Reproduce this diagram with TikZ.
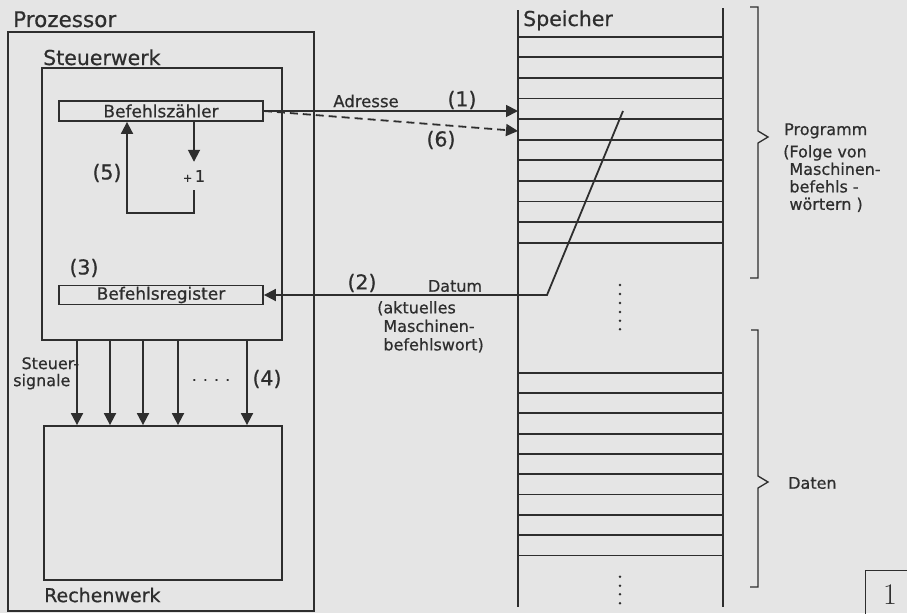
\documentclass[tikz,border=0pt]{standalone}
\usepackage{fontspec}
\newfontfamily\dinfont[FakeBold=0.6]{DejaVu Sans}
\usetikzlibrary{arrows.meta}
\colorlet{ink}{black!82}
\colorlet{paper}{black!10}
\tikzset{
  plain/.style={draw=ink, line width=1.8pt},
  arr/.style={plain, -{Triangle[length=12pt,width=12pt]}},
  box/.style={plain, rectangle, inner sep=0pt},
  lbl/.style={text=ink, inner sep=1pt, font=\dinfont\fontsize{16}{18.5}\selectfont},
  head/.style={text=ink, inner sep=0pt, font=\dinfont\fontsize{20.5}{24}\selectfont},
}

\begin{document}
\begin{tikzpicture}[x=1pt,y=-1pt]
  \fill[paper] (0,0) rectangle (907,613);
  \useasboundingbox (0,0) rectangle (907,613);

  % Prozessor
  \node[box, minimum width=306pt, minimum height=579pt] (proc) at (161,321.5) {};
  \node[head, anchor=base west, font=\dinfont\fontsize{21.5}{24}\selectfont] (proclbl) at (13,27) {Prozessor};
  \node[box, minimum width=240pt, minimum height=272pt] (sw) at (162,204) {};
  \node[head, anchor=base west] (swlbl) at (43,65) {Steuerwerk};
  \node[box, minimum width=238pt, minimum height=154pt] (rw) at (163,503) {};
  \node[head, anchor=west, font=\dinfont\fontsize{19}{24}\selectfont] (rwlbl) at (44,595) {Rechenwerk};

  \node[box, lbl, font=\dinfont\fontsize{17}{20}\selectfont, minimum width=204pt, minimum height=20pt] (bz) at (161,111) {Befehlszähler};
  \node[box, lbl, font=\dinfont\fontsize{17}{20}\selectfont, minimum width=204pt, minimum height=19pt] (br) at (161,295) {Befehlsregister};

  % Zaehler +1
  \node[lbl, minimum height=28pt] (plus) at (194,176) {{\fontsize{11}{11}\selectfont+}\,1};
  \coordinate (loop) at (127,213);
  \draw[arr] (bz.south -| plus) -- (plus.north);
  \draw[arr] (plus.south) |- (loop) -- (loop |- bz.south);
  \node[head] (n5) at (107,173) {(5)};
  \node[head] (n3) at (84,268) {(3)};

  % Speicher
  \draw[plain] (518,10) -- (518,607);
  \draw[plain] (723,8) -- (723,607);
  \node[head, anchor=base west] (splbl) at (523,26) {Speicher};
  \foreach \i in {0,...,10}
  {
    \pgfmathsetmacro{\py}{36.7+20.6*\i}
    \draw[plain] (518,\py) -- (723,\py);
  }
  \foreach \i in {0,...,9}
  {
    \pgfmathsetmacro{\py}{372.7+20.3*\i}
    \draw[plain] (518,\py) -- (723,\py);
  }
  \foreach \y in {285,294,303,312,320.7,329.3}
    \fill[ink] (620,\y) circle (1.4pt);
  \foreach \y in {576.7,585.7,594.3,603.3}
    \fill[ink] (620,\y) circle (1.4pt);

  % Adresse / Datum
  \coordinate (adr) at (518,111);
  \coordinate (nxt) at (518,131);
  \coordinate (wrd) at (623,111);
  \coordinate (knick) at (547,295);
  \draw[arr] (bz.east) -- (adr);
  \draw[arr, dash pattern=on 8pt off 5pt] (bz.east) -- (nxt);
  \draw[arr] (wrd) -- (knick) -- (br.east);
  \node[lbl, font=\dinfont\fontsize{16.5}{20}\selectfont] (adrlbl) at (366,101) {Adresse};
  \node[head] (n1) at (462,100) {(1)};
  \node[head] (n6) at (441,140) {(6)};
  \node[head] (n2) at (362,283) {(2)};
  \node[lbl] (dtlbl) at (455,286) {Datum};
  \node[lbl, align=left, anchor=north west] (dtinfo) at (376,300)
    {(aktuelles\\\hphantom{(}Maschinen-\\\hphantom{(}befehlswort)};

  % Steuersignale
  \foreach \x in {77,110,143,178,247}
    \draw[arr] (sw.south -| \x,0) -- (rw.north -| \x,0);
  \node[lbl, align=left, anchor=north west, font=\dinfont\fontsize{16}{17}\selectfont] (sslbl) at (12,356)
    {\hphantom{s}Steuer-\\signale};
  \node[lbl, font=\dinfont\fontsize{15}{17}\selectfont] (dots) at (211,380) {. . . .};
  \node[head] (n4) at (267,379) {(4)};

  % Klammern
  \draw[plain, line width=1.3pt] (750,7) -- (758,7) -- (758,131) -- (768,137) -- (758,143) -- (758,278) -- (750,278);
  \draw[plain, line width=1.3pt] (751,330) -- (758,330) -- (758,476) -- (768,482) -- (758,488) -- (758,587) -- (750,587);
  \node[lbl, anchor=base west] (prglbl) at (783,135) {Programm};
  \node[lbl, align=left, anchor=north west, font=\dinfont\fontsize{16}{17.5}\selectfont] (prginfo) at (782,144)
    {(Folge von\\\hphantom{(}Maschinen-\\\hphantom{(}befehls -\\\hphantom{(}wörtern )};
  \node[lbl, anchor=west] (dtnlbl) at (787,483) {Daten};

  % Seitenzahl
  \node[draw=ink, line width=1pt, minimum width=50pt, minimum height=50pt, text=ink,
    font=\rmfamily\fontsize{30}{30}\selectfont] (page) at (890,595) {1};
\end{tikzpicture}
\end{document}
